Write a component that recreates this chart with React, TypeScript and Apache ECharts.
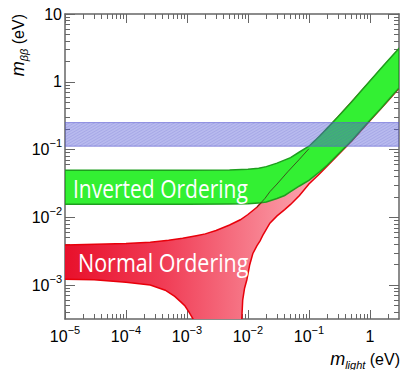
import React, { useEffect, useRef } from 'react';
import * as echarts from 'echarts';

// Axis ranges (eV)
const X_MIN = 1e-5;
const X_MAX = 3;
const Y_MIN = 3.16e-4;
const Y_MAX = 10;

// Tick label exponents (decades)
const xTickExponents = [-5, -4, -3, -2, -1, 0];
const yTickExponents = [-3, -2, -1, 0, 1];

// Inverted ordering band (green)
const ioUpperX = [1e-5, 1e-4, 1e-3, 0.005, 0.01, 0.015, 0.02, 0.03, 0.05, 0.07, 0.1, 0.15, 0.2, 0.3, 0.5, 0.7, 1, 1.5, 2, 3];
const ioUpperY = [0.0497, 0.0497, 0.0497, 0.05, 0.051, 0.053, 0.056, 0.063, 0.076, 0.092, 0.112, 0.158, 0.207, 0.305, 0.505, 0.71, 1.03, 1.55, 2.07, 3.1];
const ioLowerX = [1e-5, 1e-4, 1e-3, 0.005, 0.01, 0.015, 0.02, 0.03, 0.04, 0.05, 0.07, 0.1, 0.15, 0.2, 0.3, 0.5, 0.7, 1, 1.5, 2, 3];
const ioLowerY = [0.0156, 0.0156, 0.0156, 0.0157, 0.0158, 0.0162, 0.0168, 0.019, 0.021, 0.024, 0.029, 0.035, 0.047, 0.059, 0.085, 0.135, 0.19, 0.27, 0.4, 0.54, 0.81];

// Normal ordering band (red)
const noUpperX = [1e-5, 1e-4, 2.5e-4, 5e-4, 8.5e-4, 1.5e-3, 2e-3, 3e-3, 5e-3, 7.5e-3, 0.01, 0.014, 0.019, 0.023, 0.03, 0.045, 0.07, 0.1, 0.15, 0.2, 0.3, 0.5, 1, 2, 3];
const noUpperY = [0.0039, 0.0041, 0.0043, 0.0046, 0.0049, 0.0054, 0.0057, 0.0064, 0.0077, 0.0092, 0.011, 0.0141, 0.019, 0.024, 0.031, 0.047, 0.072, 0.103, 0.153, 0.203, 0.303, 0.503, 1.01, 2.03, 3.05];
const noLowerLeftX = [1e-5, 3e-5, 1e-4, 2.5e-4, 4.4e-4, 6.3e-4, 8e-4, 9.3e-4, 1.1e-3, 1.3e-3];
const noLowerLeftY = [1.22e-3, 1.2e-3, 1.1e-3, 1.0e-3, 8.4e-4, 6.8e-4, 5.6e-4, 4.9e-4, 3.9e-4, 3.0e-4];
const noLowerRightX = [7.9e-3, 8.2e-3, 8.8e-3, 9.6e-3, 0.0107, 0.012, 0.014, 0.0158, 0.0175, 0.0229, 0.03, 0.04, 0.05, 0.07, 0.1, 0.15, 0.2, 0.3, 0.5, 1, 2, 3];
const noLowerRightY = [3.0e-4, 6.0e-4, 9.0e-4, 1.2e-3, 2.0e-3, 2.9e-3, 3.8e-3, 4.5e-3, 5.4e-3, 8.2e-3, 0.0105, 0.013, 0.0155, 0.021, 0.031, 0.044, 0.057, 0.083, 0.133, 0.265, 0.53, 0.8];

// Experimental sensitivity band (blue)
const bandLow = 0.112;
const bandHigh = 0.25;

const lg = (v: number) => Math.log10(v);

function minorTicks(lo: number, hi: number): number[] {
  const out: number[] = [];
  for (let d = Math.floor(lo) - 1; d <= Math.ceil(hi); d++) {
    for (let k = 2; k <= 9; k++) {
      const v = d + Math.log10(k);
      if (v > lo + 1e-6 && v < hi - 1e-6) out.push(v);
    }
  }
  return out;
}

const fmtExp = (v: number) => {
  const n = Math.round(v);
  if (n === 0) return '1';
  if (n === 1) return '10';
  return '10{s|' + (n < 0 ? '\u2212' : '') + Math.abs(n) + '}';
};

const AXIS_COLOR = '#666';

export default function App() {
  const ref = useRef<HTMLDivElement>(null);
  useEffect(() => {
    document.body.style.margin = '0';
    const chart = echarts.init(ref.current!, null, { renderer: 'svg' });

    const xlo = lg(X_MIN), xhi = lg(X_MAX), ylo = lg(Y_MIN), yhi = lg(Y_MAX);
    const xMinor = minorTicks(xlo, xhi);
    const yMinor = minorTicks(ylo, yhi);

    const labelStyle = {
      fontFamily: 'Liberation Sans',
      fontSize: 16,
      lineHeight: 24,
      color: '#000',
      rich: { s: { fontFamily: 'Liberation Sans', fontSize: 11, verticalAlign: 'top', color: '#000' } },
    };

    const mkX = (pos: string, ticks: number[], len: number, withLabel: boolean, withLine: boolean) => ({
      type: 'value', min: xlo, max: xhi, position: pos, gridIndex: 0,
      axisLine: { show: withLine, onZero: false, lineStyle: { color: AXIS_COLOR, width: 1.5 } },
      axisTick: { show: true, inside: true, length: len, customValues: ticks, lineStyle: { color: AXIS_COLOR, width: 1 } },
      axisLabel: withLabel ? { show: true, customValues: ticks, formatter: fmtExp, margin: 5, ...labelStyle } : { show: false },
      splitLine: { show: false },
    });
    const mkY = (pos: string, ticks: number[], len: number, withLabel: boolean, withLine: boolean) => ({
      type: 'value', min: ylo, max: yhi, position: pos, gridIndex: 0,
      axisLine: { show: withLine, onZero: false, lineStyle: { color: AXIS_COLOR, width: 1.5 } },
      axisTick: { show: true, inside: true, length: len, customValues: ticks, lineStyle: { color: AXIS_COLOR, width: 1 } },
      axisLabel: withLabel ? { show: true, customValues: ticks, formatter: fmtExp, margin: 3, ...labelStyle } : { show: false },
      splitLine: { show: false },
    });

    const pts = (xs: number[], ys: number[], api: any) => xs.map((x, i) => api.coord([lg(x), lg(ys[i])]));

    const redFill = (params: any, api: any) => {
      const up = pts(noUpperX, noUpperY, api);
      const lr = pts(noLowerRightX, noLowerRightY, api).reverse();
      const ll = pts(noLowerLeftX, noLowerLeftY, api).reverse();
      const g0 = api.coord([xlo, 0])[0];
      const g1 = api.coord([lg(0.1), 0])[0];
      return {
        type: 'polygon',
        shape: { points: [...up, ...lr, ...ll] },
        style: {
          fill: new echarts.graphic.LinearGradient(g0, 0, g1, 0, [
            { offset: 0, color: '#e8102b' },
            { offset: 0.4, color: '#f03c55' },
            { offset: 1, color: '#fba3ad' },
          ], true),
          stroke: 'none',
        },
      };
    };

    const redLines = (params: any, api: any) => ({
      type: 'group',
      children: [
        { type: 'polyline', shape: { points: pts(noUpperX, noUpperY, api) }, style: { stroke: '#e8000b', lineWidth: 1.5, fill: 'none' } },
        { type: 'polyline', shape: { points: pts(noLowerLeftX, noLowerLeftY, api) }, style: { stroke: '#e8000b', lineWidth: 1.5, fill: 'none' } },
        { type: 'polyline', shape: { points: pts(noLowerRightX, noLowerRightY, api) }, style: { stroke: '#e8000b', lineWidth: 1.5, fill: 'none' } },
      ],
    });

    const greenBand = (params: any, api: any) => {
      const up = pts(ioUpperX, ioUpperY, api);
      const lo = pts(ioLowerX, ioLowerY, api).reverse();
      return {
        type: 'polygon',
        shape: { points: [...up, ...lo] },
        style: { fill: '#33f033', stroke: '#1e9e1e', lineWidth: 1.5 },
      };
    };

    const darkLine = (params: any, api: any) => {
      const xs: number[] = [], ys: number[] = [];
      noUpperX.forEach((x, i) => { if (x >= 0.014 && x <= 0.1) { xs.push(x); ys.push(noUpperY[i]); } });
      return { type: 'polyline', shape: { points: pts(xs, ys, api) }, style: { stroke: 'rgba(60,60,25,0.85)', lineWidth: 1, fill: 'none' } };
    };

    const blueBand = (params: any, api: any) => {
      const p1 = api.coord([xlo, lg(bandHigh)]);
      const p2 = api.coord([xhi, lg(bandLow)]);
      const x = p1[0], y = p1[1], w = p2[0] - p1[0], h = p2[1] - p1[1];
      const hatch: any[] = [];
      const t = Math.tan(Math.PI / 6);
      const step = 5;
      for (let c = x - h / t; c < x + w; c += step) {
        hatch.push({ type: 'line', shape: { x1: c, y1: y + h, x2: c + h / t, y2: y }, style: { stroke: 'rgba(90,90,200,0.18)', lineWidth: 1 } });
      }
      return {
        type: 'group',
        children: [
          { type: 'rect', shape: { x, y, width: w, height: h }, style: { fill: 'rgba(85,90,215,0.42)', stroke: 'none' } },
          { type: 'group', clipPath: { type: 'rect', shape: { x, y, width: w, height: h } }, children: hatch },
          { type: 'line', shape: { x1: x, y1: y, x2: x + w, y2: y }, style: { stroke: 'rgba(90,90,210,0.6)', lineWidth: 1 } },
          { type: 'line', shape: { x1: x, y1: y + h, x2: x + w, y2: y + h }, style: { stroke: 'rgba(90,90,210,0.6)', lineWidth: 1 } },
        ],
      };
    };

    const customSeries = (renderItem: any) => ({
      type: 'custom', xAxisIndex: 0, yAxisIndex: 0, data: [0], clip: true, silent: true, renderItem,
    });

    chart.setOption({
      animation: false,
      grid: { left: 65, right: 3, top: 14, bottom: 51 },
      xAxis: [
        mkX('bottom', xTickExponents, 9, true, true),
        mkX('bottom', xMinor, 5, false, false),
        mkX('top', xTickExponents, 9, false, true),
        mkX('top', xMinor, 5, false, false),
      ],
      yAxis: [
        mkY('left', yTickExponents, 10, true, true),
        mkY('left', yMinor, 5, false, false),
        mkY('right', yTickExponents, 10, false, true),
        mkY('right', yMinor, 5, false, false),
      ],
      series: [
        customSeries(redFill),
        customSeries(redLines),
        customSeries(greenBand),
        customSeries(darkLine),
        customSeries(blueBand),
      ],
      graphic: [
        {
          type: 'text', x: 73, y: 188, scaleX: 0.84, z: 100,
          style: { text: 'Inverted Ordering', fill: '#fff', font: '25px "Open Sans"', verticalAlign: 'middle', align: 'left' },
        },
        {
          type: 'text', x: 78, y: 262, scaleX: 0.86, z: 100,
          style: { text: 'Normal Ordering', fill: '#fff', font: '25px "Open Sans"', verticalAlign: 'middle', align: 'left' },
        },
        {
          type: 'text', x: 18, y: 14, rotation: Math.PI / 2, z: 100,
          style: {
            text: '{m|m}{s|\u03b2\u03b2} (eV)', fill: '#000', font: '16px "Liberation Sans"', align: 'right', verticalAlign: 'middle',
            rich: {
              m: { fontFamily: 'Liberation Sans', fontSize: 18, fontStyle: 'italic', lineHeight: 22 },
              s: { fontFamily: 'Liberation Sans', fontSize: 11, fontStyle: 'italic', verticalAlign: 'bottom' },
            },
          },
        },
        {
          type: 'text', x: 400, y: 359, z: 100,
          style: {
            text: '{m|m}{s|light} (eV)', fill: '#000', font: '16px "Liberation Sans"', align: 'right', verticalAlign: 'middle',
            rich: {
              m: { fontFamily: 'Liberation Sans', fontSize: 18, fontStyle: 'italic', lineHeight: 22 },
              s: { fontFamily: 'Liberation Sans', fontSize: 11, fontStyle: 'italic', verticalAlign: 'bottom' },
            },
          },
        },
      ],
    });
    return () => chart.dispose();
  }, []);
  return <div ref={ref} style={{ width: 402, height: 370 }} />;
}
